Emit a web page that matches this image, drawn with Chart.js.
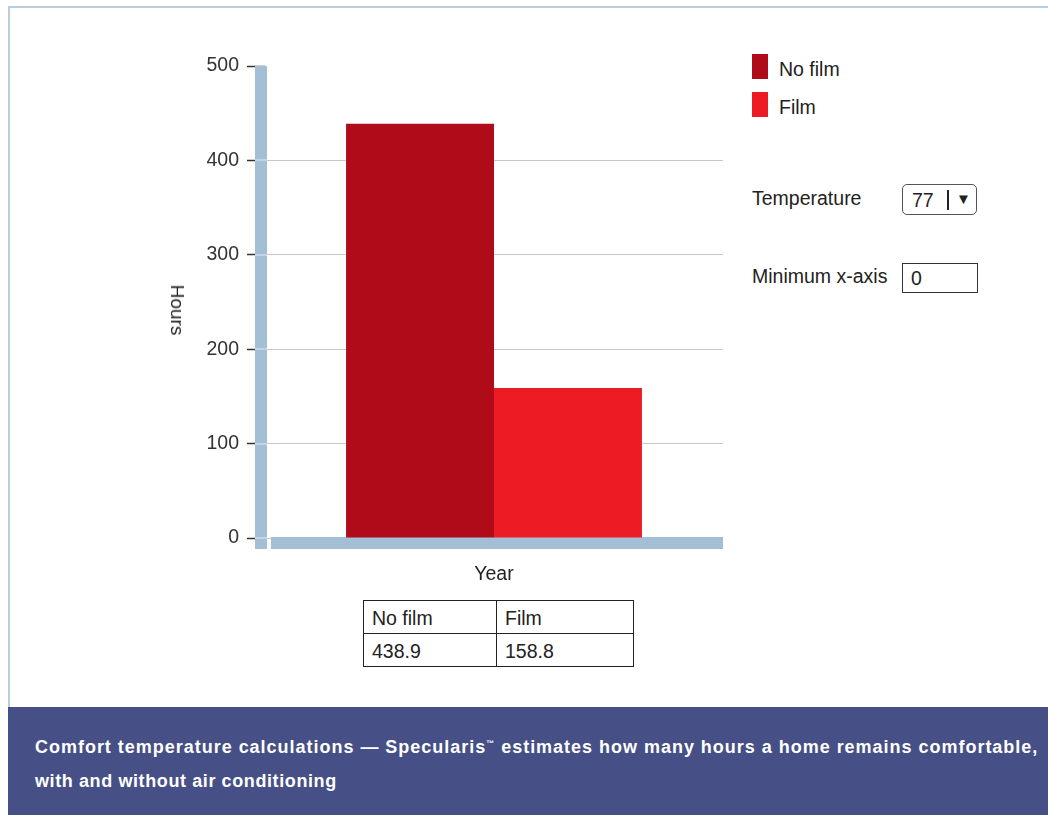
<!DOCTYPE html>
<html>
<head>
<meta charset="utf-8">
<script src="https://cdn.jsdelivr.net/npm/chart.js@4.4.0/dist/chart.umd.min.js"></script>
<style>
  body { margin: 0; width: 1048px; height: 815px; position: relative; overflow: hidden; background: #fff;
         font-family: "Liberation Sans", Arial, sans-serif; color: #222; }
  #frame { position: absolute; left: 8px; top: 6px; right: 0; height: 701px; box-sizing: border-box;
           border-left: 2px solid #b8cfe2; border-top: 2px solid #b8cfe2; }
  #chartBox { position: absolute; left: 0; top: 0; width: 740px; height: 600px; }
  #yTitle { position: absolute; left: 177px; top: 310px; transform: translate(-50%, -50%) rotate(90deg);
            font-size: 19px; color: #222; white-space: nowrap; }
  #legend { position: absolute; left: 752px; top: 54px; }
  .legItem { display: flex; align-items: center; height: 25px; margin-bottom: 13px; font-size: 19.5px; }
  .legItem span.box { width: 16px; height: 25px; margin-right: 11px; }
  .legItem span.txt { position: relative; top: 3px; }
  .ctrl { position: absolute; left: 752px; font-size: 19.5px; color: #222; }
  .sel { position: absolute; left: 902px; top: 184px; width: 75px; height: 31px; box-sizing: border-box;
         border: 1.5px solid #555; border-radius: 5px; font-size: 19.5px; }
  .sel .v { position: absolute; left: 9px; top: 4px; }
  .sel .sep { position: absolute; left: 44px; top: 5px; width: 2px; height: 20px; background: #222; }
  .sel .arr { position: absolute; left: 53px; top: 5px; font-size: 15px; }
  .inp { position: absolute; left: 902px; top: 263px; width: 76px; height: 30px; box-sizing: border-box;
         border: 1.5px solid #333; font-size: 19.5px; padding: 3px 0 0 8px; }
  #valTable { position: absolute; left: 363px; top: 600px; border-collapse: collapse; font-size: 19.5px; }
  #valTable td { border: 1.5px solid #222; height: 33px; padding: 2px 8px 0 8px; vertical-align: middle; box-sizing: border-box; }
  #valTable td:first-child { width: 133px; }
  #valTable td:last-child { width: 137px; }
  #caption { position: absolute; left: 8px; top: 707px; right: 0; bottom: 0; background: #465086; color: #fff;
             font-size: 18px; font-weight: bold; padding: 20px 0 0 27px; line-height: 34px; box-sizing: border-box;
             white-space: nowrap; }
  #caption .l1 { letter-spacing: 0.98px; }
  #caption .l2 { letter-spacing: 0.6px; }
</style>
</head>
<body>
<div id="frame"></div>
<div id="chartBox"><canvas id="chart"></canvas></div>
<div id="yTitle">Hours</div>
<div id="legend"></div>
<div class="ctrl" style="top:187px">Temperature</div>
<div class="sel"><span class="v">77</span><span class="sep"></span><span class="arr">&#9660;</span></div>
<div class="ctrl" style="top:265px">Minimum x-axis</div>
<div class="inp">0</div>
<table id="valTable"></table>
<div id="caption"><span class="l1">Comfort temperature calculations — Specularis<sup style="font-size:8px">™</sup> estimates how many hours a home remains comfortable,</span><br><span class="l2">with and without air conditioning</span></div>
<script>
const categories = ['Year'];
const seriesNames = ['No film', 'Film'];
const noFilm = [438.9];
const film = [158.8];
const seriesColors = ['#b00b18', '#ed1c24'];
const yTicks = [0, 100, 200, 300, 400, 500];

const axisColor = '#a3bfd6';
const yMax = yTicks[yTicks.length - 1];

// thick light-blue axis bars like the original widget
const axisBars = {
  id: 'axisBars',
  beforeDatasetsDraw(chart) {
    const { ctx, chartArea, scales: { y } } = chart;
    const top = y.getPixelForValue(yMax);
    ctx.save();
    ctx.fillStyle = axisColor;
    ctx.fillRect(chartArea.left - 10, top, 12, chartArea.bottom + 11 - top);
    ctx.fillRect(chartArea.left + 6, chartArea.bottom - 1, chartArea.right - chartArea.left - 6, 12);
    ctx.fillStyle = '#e4ecf3';
    y.ticks.forEach(t => {
      if (t.value < yMax) ctx.fillRect(chartArea.left - 10, Math.round(y.getPixelForValue(t.value)) - 0.5, 12, 1);
    });
    ctx.restore();
  }
};

Chart.defaults.font.family = '"Liberation Sans", Arial, sans-serif';
Chart.defaults.font.size = 19.5;
Chart.defaults.color = '#333';

new Chart(document.getElementById('chart'), {
  type: 'bar',
  data: {
    labels: categories,
    datasets: [
      { label: seriesNames[0], data: noFilm, backgroundColor: seriesColors[0] },
      { label: seriesNames[1], data: film, backgroundColor: seriesColors[1] }
    ]
  },
  options: {
    responsive: true,
    maintainAspectRatio: false,
    animation: false,
    layout: { padding: { top: 66, right: 17, left: 0, bottom: 0 } },
    datasets: { bar: { categoryPercentage: 0.646, barPercentage: 1 } },
    plugins: { legend: { display: false }, tooltip: { enabled: false } },
    scales: {
      x: {
        grid: { display: false },
        border: { display: false },
        ticks: { padding: 17, color: '#222' },
        afterFit: s => { s.height = 62; }
      },
      y: {
        min: 0,
        max: yMax,
        afterBuildTicks: s => { s.ticks = yTicks.map(v => ({ value: v })); },
        border: { display: false },
        grid: {
          color: c => (c.tick && c.tick.value === yMax) ? 'rgba(0,0,0,0)' : '#c8c8c8',
          tickColor: '#333',
          tickLength: 18,
          tickWidth: 1.5
        },
        ticks: { padding: 8, color: '#333' },
        afterFit: s => { s.width = 265; }
      }
    }
  },
  plugins: [axisBars]
});

// legend and value table from the same arrays
const legend = document.getElementById('legend');
seriesNames.forEach((n, i) => {
  const d = document.createElement('div');
  d.className = 'legItem';
  d.innerHTML = `<span class="box" style="background:${seriesColors[i]}"></span><span class="txt">${n}</span>`;
  legend.appendChild(d);
});
const values = [noFilm[0], film[0]];
document.getElementById('valTable').innerHTML =
  '<tr>' + seriesNames.map(n => `<td>${n}</td>`).join('') + '</tr>' +
  '<tr>' + values.map(v => `<td>${v.toFixed(1)}</td>`).join('') + '</tr>';
</script>
</body>
</html>
